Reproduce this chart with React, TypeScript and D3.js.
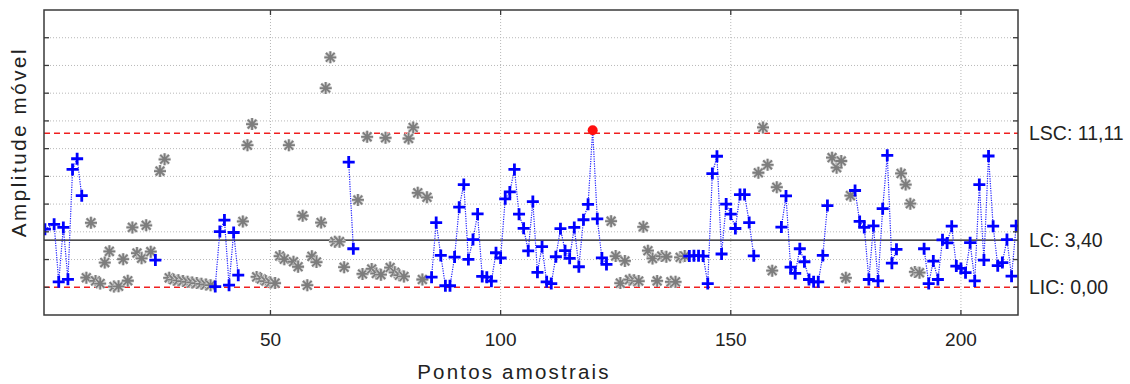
import React from "react";
import * as d3 from "d3";

// ---- data ----
// moving range value per sample point 1..212 (null = no point)
const movingRange: (number | null)[] = [
  4.19, null, 4.54, 0.39, 4.32, 0.57, 8.5, 9.27, 6.61, 0.69,
  4.65, 0.46, 0.27, 1.78, 2.59, 0.05, 0.07, 2.03, 0.47, 4.32,
  2.47, 2.09, 4.47, 2.57, 1.96, 8.38, 9.23, 0.68, 0.55, 0.5,
  0.45, 0.4, 0.35, 0.3, 0.25, 0.2, 0.15, 0.05, 4.02, 4.85,
  0.15, 3.95, 0.87, 4.75, 10.25, 11.77, 0.75, 0.6, 0.45, 0.35,
  0.3, 2.25, 2.03, 10.25, 1.84, 1.48, 5.16, 0.15, 2.23, 1.82,
  4.67, 14.37, 16.59, 3.29, 3.29, 1.45, 9.03, 2.78, 6.3, 0.96,
  10.85, 1.32, 1.0, 0.91, 10.78, 1.42, 1.08, 0.87, 0.78, 10.73,
  11.53, 6.81, 0.56, 6.49, 0.73, 4.67, 2.3, 0.11, 0.11, 2.18,
  5.78, 7.41, 2.01, 3.44, 5.29, 0.78, 0.73, 0.44, 2.49, 2.11,
  6.38, 6.88, 8.5, 5.27, 4.25, 2.63, 6.18, 1.08, 2.93, 0.39,
  0.27, 2.2, 4.23, 2.64, 2.09, 4.32, 1.48, 4.87, 5.98, 11.32,
  4.94, 2.12, 1.65, 4.77, 2.25, 0.3, 1.9, 0.55, 0.5, 0.45,
  4.36, 2.64, 2.08, 0.46, 2.25, 2.2, 0.39, 0.39, 2.16, 2.25,
  2.25, 2.28, 2.28, 2.25, 0.27, 8.2, 9.45, 2.4, 6.0, 5.28,
  4.24, 6.69, 6.69, 4.67, 2.27, 8.26, 11.53, 8.83, 1.2, 7.22,
  4.34, 6.59, 1.45, 1.0, 2.78, 1.84, 0.56, 0.39, 0.39, 2.3,
  5.89, 9.35, 8.63, 9.11, 0.68, 6.61, 6.98, 4.75, 4.32, 0.56,
  4.43, 0.46, 5.67, 9.52, 1.74, 2.74, 8.21, 7.41, 6.03, 1.11,
  1.05, 2.78, 0.27, 1.89, 0.56, 3.42, 3.2, 4.41, 1.53, 1.36,
  1.05, 3.22, 0.46, 7.41, 1.96, 9.47, 4.41, 1.56, 1.78, 3.44,
  0.8, 4.43,
];

// sample ranges that are excluded (drawn as grey asterisks)
const excludedRanges: [number, number][] = [
  [10, 24], [26, 37], [44, 66], [69, 84], [124, 140],
  [156, 160], [172, 176], [187, 191],
];

const xTicks = [50, 100, 150, 200];
const yGridValues = [0, 2, 4, 6, 8, 10, 12, 14, 16, 18];
const limitValues = [11.11, 3.4, 0.0];
const limitLabels = ["LSC: 11,11", "LC: 3,40", "LIC: 0,00"];
const xTitle = "Pontos amostrais";
const yTitle = "Amplitude móvel";

const W = 1130, H = 384;
const L = 44, R = 1018, T = 10, B = 315;

export default function App() {
  const x = d3.scaleLinear().domain([0.8, 212.4]).range([L, R]);
  const y = d3.scaleLinear().domain([-2, 20]).range([B, T]);
  const LSC = limitValues[0], LC = limitValues[1], LIC = limitValues[2];

  const isExcluded = (i: number) => excludedRanges.some(([a, b]) => i >= a && i <= b);
  const pts = movingRange
    .map((v, k) => ({ i: k + 1, v }))
    .filter((d) => d.v !== null) as { i: number; v: number }[];
  const blue = pts.filter((d) => !isExcluded(d.i));
  const grey = pts.filter((d) => isExcluded(d.i));

  // line segments between consecutive non-excluded points
  const segs: { i: number; v: number }[][] = [];
  let cur: { i: number; v: number }[] = [];
  for (let k = 0; k < blue.length; k++) {
    const p = blue[k];
    if (cur.length) {
      const prev = cur[cur.length - 1];
      let gap = false;
      for (let j = prev.i + 1; j < p.i; j++) if (isExcluded(j)) gap = true;
      if (gap) { segs.push(cur); cur = []; }
    }
    cur.push(p);
  }
  if (cur.length) segs.push(cur);
  const line = d3.line<{ i: number; v: number }>().x((d) => x(d.i)).y((d) => y(d.v));

  const font = "'Liberation Sans', Arial, sans-serif";
  const tickLen = 5;

  const r = 6, dg = 4.4;
  const star = `M${-r},0H${r}M0,${-r}V${r}M${-dg},${-dg}L${dg},${dg}M${-dg},${dg}L${dg},${-dg}`;

  return (
    <div style={{ position: "absolute", left: 0, top: 0 }}>
      <svg width={W} height={H} style={{ display: "block", background: "#fff" }}>
        <defs>
          <clipPath id="plotclip">
            <rect x={L} y={T} width={R - L} height={B - T} />
          </clipPath>
        </defs>
        {/* grid */}
        {yGridValues.filter((v) => v > 0).map((v) => (
          <line key={"gy" + v} x1={L} x2={R} y1={y(v)} y2={y(v)} stroke="#b8b8b8" strokeWidth={1} strokeDasharray="1,2" />
        ))}
        {xTicks.map((t) => (
          <line key={"gx" + t} x1={x(t)} x2={x(t)} y1={T} y2={B} stroke="#b8b8b8" strokeWidth={1} strokeDasharray="1,2" />
        ))}
        {/* center and limit lines */}
        <line x1={L} x2={R} y1={y(LC)} y2={y(LC)} stroke="#111" strokeWidth={1.3} />
        <line x1={L} x2={R} y1={y(LSC)} y2={y(LSC)} stroke="#f02020" strokeWidth={1.4} strokeDasharray="6,4" />
        <line x1={L} x2={R} y1={y(LIC)} y2={y(LIC)} stroke="#f02020" strokeWidth={1.4} strokeDasharray="6,4" />

        <g clipPath="url(#plotclip)">
          {segs.filter((s) => s.length > 1).map((s, k) => (
            <path key={"s" + k} d={line(s) || ""} fill="none" stroke="#2020ff" strokeWidth={1.2} strokeDasharray="1.2,1.2" />
          ))}
          {grey.map((d) => (
            <g key={"g" + d.i} transform={`translate(${x(d.i)},${y(d.v)})`}>
              <path d={star} stroke="#d2d2d2" strokeWidth={3.4} />
              <path d={star} stroke="#7d7d7d" strokeWidth={1.8} />
            </g>
          ))}
          {blue.map((d) => {
            const cx = x(d.i), cy = y(d.v);
            if (d.v > LSC) {
              return <circle key={"b" + d.i} cx={cx} cy={cy} r={5} fill="#ff1010" />;
            }
            return (
              <path key={"b" + d.i} transform={`translate(${cx},${cy})`} d="M-6,0H6M0,-6V6" stroke="#0000ff" strokeWidth={2.8} />
            );
          })}
        </g>

        {/* frame */}
        <rect x={L} y={T} width={R - L} height={B - T} fill="none" stroke="#3a3a3a" strokeWidth={1.5} />
        {/* ticks */}
        {yGridValues.map((v) => (
          <g key={"ty" + v}>
            <line x1={L} x2={L + tickLen} y1={y(v)} y2={y(v)} stroke="#3a3a3a" strokeWidth={1.3} />
            <line x1={R - tickLen} x2={R} y1={y(v)} y2={y(v)} stroke="#3a3a3a" strokeWidth={1.3} />
          </g>
        ))}
        {xTicks.map((t) => (
          <g key={"tx" + t}>
            <line x1={x(t)} x2={x(t)} y1={B} y2={B - tickLen} stroke="#3a3a3a" strokeWidth={1.3} />
            <line x1={x(t)} x2={x(t)} y1={T} y2={T + tickLen} stroke="#3a3a3a" strokeWidth={1.3} />
            <text x={x(t)} y={346} textAnchor="middle" fontFamily={font} fontSize={19} fill="#222">{t}</text>
          </g>
        ))}
        {/* limit labels */}
        {limitValues.map((v, k) => (
          <text key={"ll" + k} x={1029} y={y(v) + 7} fontFamily={font} fontSize={19.5} fill="#222">{limitLabels[k]}</text>
        ))}
        {/* titles */}
        <text x={514} y={379} textAnchor="middle" fontFamily={font} fontSize={20.5} letterSpacing={2.2} fill="#222">{xTitle}</text>
        <text transform={`translate(26,142) rotate(-90)`} textAnchor="middle" fontFamily={font} fontSize={20.5} letterSpacing={2.6} fill="#222">{yTitle}</text>
      </svg>
    </div>
  );
}
